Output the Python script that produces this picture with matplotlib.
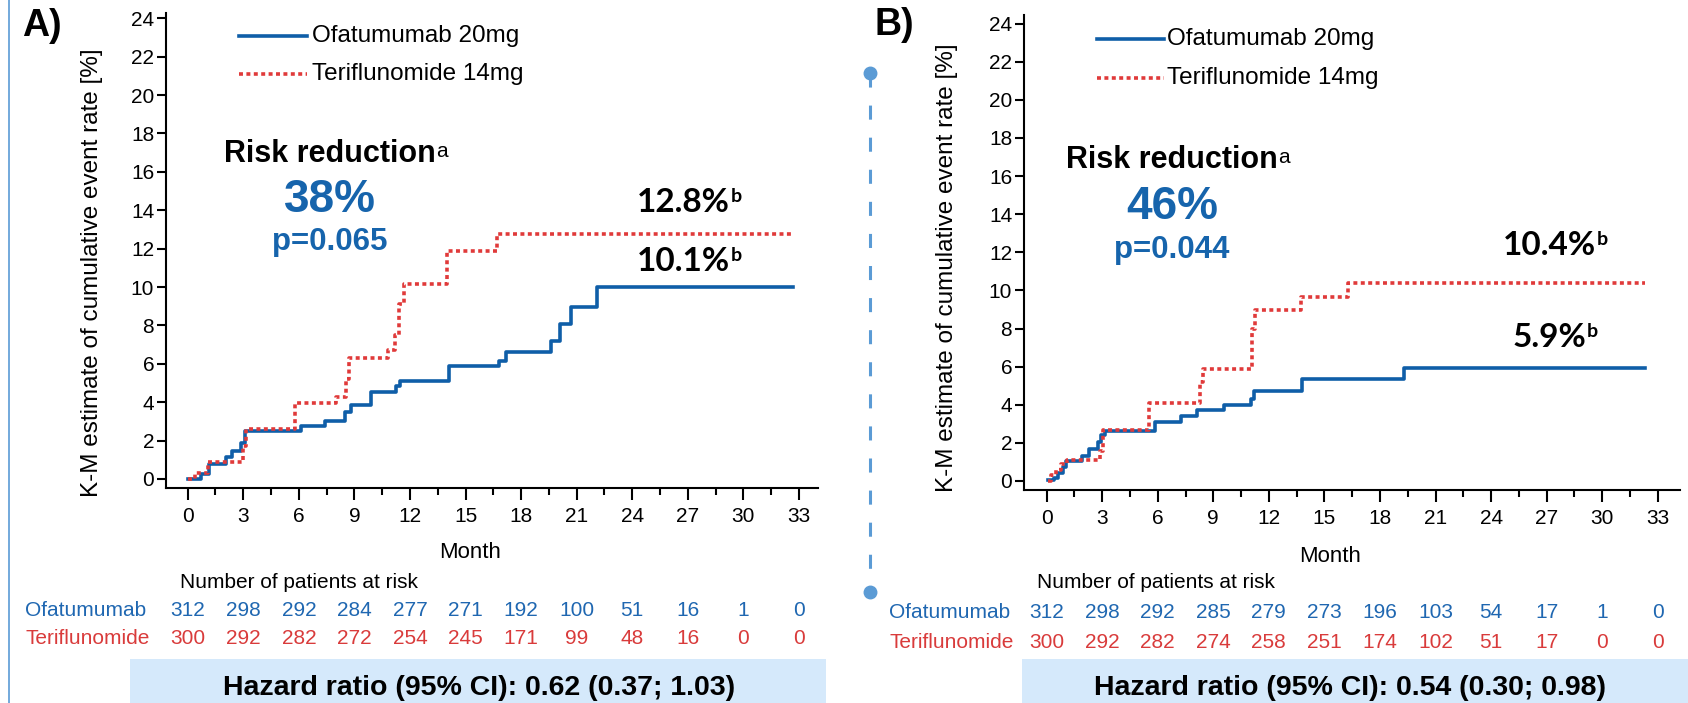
import matplotlib
matplotlib.use('Agg')
import matplotlib.pyplot as plt
from matplotlib.lines import Line2D
from matplotlib.patches import Rectangle
from matplotlib.ticker import MultipleLocator
import matplotlib.transforms as mtransforms

plt.rcParams['font.family'] = ['Liberation Sans', 'DejaVu Sans']

W, H = 1688, 703

# ---------------- data ----------------
tick_months = list(range(0, 34, 3))
y_ticks = list(range(0, 25, 2))

a_ofa_t = [0, 0.73, 1.16, 2.06, 2.4, 2.9, 3.1, 6.1, 7.43, 8.47, 8.8, 9.9, 11.24, 11.44,
           14.1, 16.8, 17.2, 19.6, 20.1, 20.7, 22.1, 32.7]
a_ofa_v = [0, 0.26, 0.8, 1.13, 1.44, 1.85, 2.49, 2.75, 3.04, 3.48, 3.83, 4.52, 4.83, 5.13,
           5.86, 6.14, 6.6, 7.18, 8.05, 8.96, 10.0, 10.0]
a_ter_t = [0, 0.42, 1.07, 2.97, 3.15, 5.8, 8.0, 8.56, 8.7, 10.8, 11.2, 11.4, 11.7,
           14.0, 16.7, 32.7]
a_ter_v = [0, 0.3, 0.9, 1.7, 2.6, 3.97, 4.26, 5.2, 6.3, 6.7, 7.5, 9.1, 10.17,
           11.9, 12.75, 12.7]

b_ofa_t = [0.1, 0.38, 0.6, 0.88, 1.05, 1.9, 2.28, 2.77, 2.92, 3.15, 5.87, 7.24, 8.1, 9.58,
           11.04, 11.19, 13.8, 19.3, 32.3]
b_ofa_v = [0.05, 0.14, 0.4, 0.75, 1.05, 1.3, 1.66, 2.06, 2.41, 2.64, 3.11, 3.43, 3.71, 3.99,
           4.29, 4.72, 5.35, 5.91, 5.91]
b_ter_t = [0.1, 0.23, 0.5, 0.8, 1.1, 2.86, 3.07, 5.55, 8.27, 8.47, 11.1, 11.27, 13.73, 16.3, 32.3]
b_ter_v = [0.0, 0.3, 0.6, 0.9, 1.1, 1.6, 2.7, 4.08, 5.2, 5.85, 7.96, 8.98, 9.67, 10.4, 10.4]

a_risk_ofa = [312, 298, 292, 284, 277, 271, 192, 100, 51, 16, 1, 0]
a_risk_ter = [300, 292, 282, 272, 254, 245, 171, 99, 48, 16, 0, 0]
b_risk_ofa = [312, 298, 292, 285, 279, 273, 196, 103, 54, 17, 1, 0]
b_risk_ter = [300, 292, 282, 274, 258, 251, 174, 102, 51, 17, 0, 0]

series_names = ['Ofatumumab 20mg', 'Teriflunomide 14mg']
row_names = ['Ofatumumab', 'Teriflunomide']
panel_labels = ['A)', 'B)']
risk_reduction = ['38%', '46%']
p_values = ['p=0.065', 'p=0.044']
end_labels_a = ['12.8%', '10.1%']
end_labels_b = ['10.4%', '5.9%']
hr_texts = ['Hazard ratio (95% CI): 0.62 (0.37; 1.03)',
            'Hazard ratio (95% CI): 0.54 (0.30; 0.98)']

# ---------------- style ----------------
BLUE_LINE = '#0f5ea8'
RED_LINE = '#e03a3a'
BLUE_TXT = '#1664ac'
RISK_BLUE = '#1f67b1'
RISK_RED = '#d93b3b'
BOX = '#d5e9fb'
DIV = '#5b9bd5'

fig = plt.figure(figsize=(W / 100, H / 100), dpi=100)


def fx(x):
    return x / W


def fy(y):
    return 1 - y / H


def make_axes(left, right, top, bottom, x0px, y0px, xs, ys):
    ax = fig.add_axes([fx(left), fy(bottom), (right - left) / W, (bottom - top) / H])
    ax.set_xlim((left - x0px) / xs, (right - x0px) / xs)
    ax.set_ylim((y0px - bottom) / ys, (y0px - top) / ys)
    for s in ['top', 'right']:
        ax.spines[s].set_visible(False)
    for s in ['left', 'bottom']:
        ax.spines[s].set_linewidth(1.5)
    ax.set_xticks(tick_months)
    ax.xaxis.set_minor_locator(MultipleLocator(1.5))
    ax.set_yticks(y_ticks)
    ax.tick_params(axis='x', which='major', direction='out', length=8.6, width=1.5,
                   labelsize=15, pad=5)
    ax.tick_params(axis='x', which='minor', direction='out', length=5, width=1.5)
    ax.tick_params(axis='y', which='major', direction='out', length=6.5, width=1.5,
                   labelsize=15, pad=2)
    ax.patch.set_alpha(0)
    return ax


axA = make_axes(166, 818, 13, 488, 187.7, 479, 18.52, 19.2)
axB = make_axes(1024, 1680, 15, 490, 1046.6, 481, 18.52, 19.06)

for ax, (ot, ov, tt, tv) in [(axA, (a_ofa_t, a_ofa_v, a_ter_t, a_ter_v)),
                             (axB, (b_ofa_t, b_ofa_v, b_ter_t, b_ter_v))]:
    ax.step(ot, ov, where='post', color=BLUE_LINE, lw=2.6, zorder=3)
    ax.step(tt, tv, where='post', color=RED_LINE, lw=2.6, linestyle=(0, (1.1, 0.95)),
            zorder=4)


def T(x, y, s, **kw):
    return fig.text(fx(x), fy(y), s, **kw)


# y labels
T(92, 273, 'K-M estimate of cumulative event rate [%]', rotation=90, ha='center',
  va='center', fontsize=17.5)
T(947, 268, 'K-M estimate of cumulative event rate [%]', rotation=90, ha='center',
  va='center', fontsize=17.5)

# Month labels
T(470, 553, 'Month', ha='center', va='center', fontsize=16)
T(1330, 557, 'Month', ha='center', va='center', fontsize=16)

# panel labels
T(22, 26, panel_labels[0], ha='left', va='center', fontsize=27, fontweight='bold')
T(875, 25, panel_labels[1], ha='left', va='center', fontsize=27, fontweight='bold')

# legends
for (lx0, lx1, tx, y1, y2) in [(239, 307, 312, 36, 74),
                               (1097, 1164, 1167, 39, 78)]:
    fig.add_artist(Line2D([fx(lx0), fx(lx1)], [fy(y1), fy(y1)], color=BLUE_LINE, lw=2.6,
                          transform=fig.transFigure))
    fig.add_artist(Line2D([fx(lx0), fx(lx1)], [fy(y2), fy(y2)], color=RED_LINE, lw=2.6,
                          linestyle=(0, (1.1, 0.95)), transform=fig.transFigure))
    T(tx, y1, series_names[0], ha='left', va='center', fontsize=17.5)
    T(tx, y2, series_names[1], ha='left', va='center', fontsize=17.5)

# risk reduction blocks
rr_texts = []
for (cx, base_rr, base_pct, base_p, pct, pv) in [(330, 162, 212, 250, risk_reduction[0], p_values[0]),
                                                  (1172, 168, 219, 258, risk_reduction[1], p_values[1])]:
    t = T(cx, base_rr, 'Risk reduction', ha='center', va='baseline', fontsize=22,
          fontweight='bold')
    rr_texts.append((t, base_rr))
    T(cx, base_pct, pct, ha='center', va='baseline', fontsize=33, fontweight='bold',
      color=BLUE_TXT)
    T(cx, base_p, pv, ha='center', va='baseline', fontsize=22.5, fontweight='bold',
      color=BLUE_TXT)

# end-of-curve labels
end_texts = []
for (x, base, s) in [(637, 212, end_labels_a[0]), (637, 271, end_labels_a[1]),
                     (1503, 255, end_labels_b[0]), (1513, 347, end_labels_b[1])]:
    t = T(x, base, s, ha='left', va='baseline', fontsize=24, fontweight='bold',
          family=['Lato', 'DejaVu Sans'])
    end_texts.append((t, base))

# at-risk tables
for ax, (yh, yo, yt, xl, xh, ofa, ter) in [
        (axA, (582, 610, 638, 25, 180, a_risk_ofa, a_risk_ter)),
        (axB, (582, 612, 642, 889, 1037, b_risk_ofa, b_risk_ter))]:
    T(xh, yh, 'Number of patients at risk', ha='left', va='center', fontsize=15)
    T(xl, yo, row_names[0], ha='left', va='center', fontsize=15, color=RISK_BLUE)
    T(xl, yt, row_names[1], ha='left', va='center', fontsize=15, color=RISK_RED)
    tr = mtransforms.blended_transform_factory(ax.transData, fig.transFigure)
    for m, n1, n2 in zip(tick_months, ofa, ter):
        ax.text(m, fy(yo), str(n1), transform=tr, ha='center', va='center', fontsize=15,
                color=RISK_BLUE, clip_on=False)
        ax.text(m, fy(yt), str(n2), transform=tr, ha='center', va='center', fontsize=15,
                color=RISK_RED, clip_on=False)

# hazard ratio boxes
for (x0, x1, cx, s) in [(130, 826, 479, hr_texts[0]), (1022, 1688, 1350, hr_texts[1])]:
    fig.add_artist(Rectangle((fx(x0), 0), (x1 - x0) / W, (H - 659) / H,
                             transform=fig.transFigure, facecolor=BOX, edgecolor='none',
                             zorder=0))
    T(cx, 688, s, ha='center', va='center', fontsize=20.5, fontweight='bold')

# divider
fig.add_artist(Line2D([fx(870), fx(870)], [fy(73), fy(592)], color=DIV, lw=2.2,
                      linestyle=(0, (4.6, 5.9)), transform=fig.transFigure))
fig.add_artist(Line2D([fx(870), fx(870)], [fy(73), fy(592)], color=DIV, lw=0,
                      marker='o', markersize=9, linestyle='none',
                      transform=fig.transFigure))
# left border line
fig.add_artist(Line2D([fx(9), fx(9)], [0, 1], color=DIV, lw=1.2,
                      transform=fig.transFigure))

# superscripts
fig.canvas.draw()
r = fig.canvas.get_renderer()
for t, base in rr_texts:
    bb = t.get_window_extent(r)
    T(bb.x1 + 0.5, base - 5, 'a', ha='left', va='baseline', fontsize=15)
for t, base in end_texts:
    bb = t.get_window_extent(r)
    T(bb.x1 + 0.5, base - 10, 'b', ha='left', va='baseline', fontsize=14, fontweight='bold',
      family=['Lato', 'DejaVu Sans'])

fig.savefig('out.png', dpi=100)
